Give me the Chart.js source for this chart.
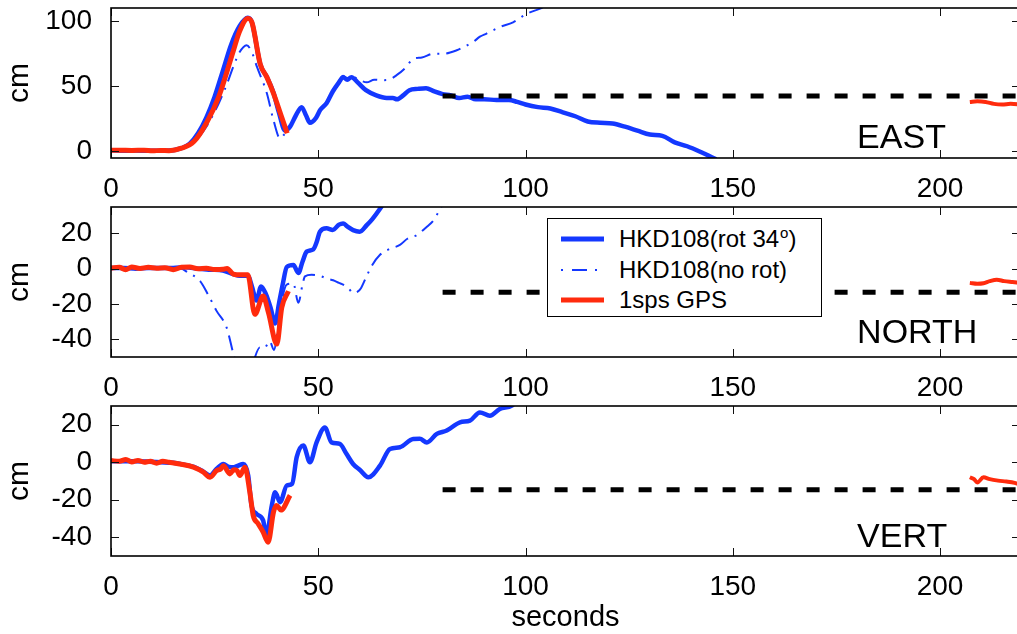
<!DOCTYPE html>
<html>
<head>
<meta charset="utf-8">
<script src="https://cdn.jsdelivr.net/npm/chart.js@4/dist/chart.umd.min.js"></script>
<style>
  html, body { margin:0; padding:0; background:#fff; width:1017px; height:634px; overflow:hidden; }
  canvas { position:absolute; left:0; }
  #legend { position:absolute; left:547px; top:218px; width:273px; height:97px; border:1.5px solid #000; background:#fff;
            font-family:'Liberation Sans', Arial, Helvetica, sans-serif; font-size:24px; color:#000; }
  .row { position:absolute; left:0; height:30px; width:100%; }
  .row svg { position:absolute; left:13px; top:0; }
  .row span { position:absolute; left:71px; top:2px; white-space:nowrap; line-height:26px; }
  sup { font-size:15px; position:relative; top:-1px; vertical-align:top; line-height:15px; margin-left:1px; }
</style>
</head>
<body>
<canvas id="cEast" width="1025" height="200" style="top:0px"></canvas>
<canvas id="cNorth" width="1025" height="200" style="top:200px"></canvas>
<canvas id="cVert" width="1025" height="234" style="top:400px"></canvas>
<div id="legend">
  <div class="row" style="top:5px"><svg width="44" height="30"><line x1="0" y1="15" x2="43" y2="15" stroke="#1438ff" stroke-width="5"/></svg><span>HKD108(rot 34<sup>o</sup>)</span></div>
  <div class="row" style="top:36px"><svg width="44" height="30"><line x1="0" y1="15" x2="43" y2="15" stroke="#1438ff" stroke-width="2" stroke-dasharray="2 9 15 8 2 20"/></svg><span>HKD108(no rot)</span></div>
  <div class="row" style="top:66px"><svg width="44" height="30"><line x1="0" y1="15" x2="43" y2="15" stroke="#ff2b0d" stroke-width="5"/></svg><span>1sps GPS</span></div>
</div>
<script>
const FONT = "'Liberation Sans', Arial, Helvetica, sans-serif";
const BLUE = '#1438ff';
const RED = '#ff2b0d';

// ---- tick labels ----
const xTicks = [0, 50, 100, 150, 200];
const eastYTicks = [0, 50, 100];
const northYTicks = [-40, -20, 0, 20];
const vertYTicks = [-40, -20, 0, 20];

// ---- EAST ----
const eastRotT = [0,3,6,9,12,15,17,19,21,23,25,27,29,31,33,34,36,37.6,39.2,40.5,42,43.2,44.5,46,47,48,49.5,50.5,52,53.5,55,56,57,58,59.5,61.5,64,66.5,68,69,70.5,72,74,76,78,80,82,84,86,88,90,93,96,98,100,103,106,109,112,115,118,121,124,127,130,133,136,139,142,144,146];
const eastRotV = [1,0.5,0.8,0.5,0.6,1,2.5,6,14,26,42,62,82,96,102.5,99,67,57,45,30,16,19,27,34,28,22,26,32,37,46,53,57,55,57,53,47,43,41,41,40,43,47,48,48.5,46,44,43,41,42,40,40,39.5,39.5,38,36,34,33,30,27,23,22,21.5,19,16,13,12,7,4,0,-3,-6];
const eastNoRotT = [0,10,15,17,20,23,26,28,29.5,31,32.7,34,35.2,37.6,39.2,40.8,42,43.2,44.5,46,47,48,49.5,50.5,52,53.5,55,56,57,58,59.3,61.7,63.5,65.7,67,68.9,71,72.9,75,77.8,80.2,83.4,85,87.4,89,90.6,93.8,97,100.3,103.5,105];
const eastNoRotV = [0.5,0.5,1,2.5,7,19,37,52,65,76,81.5,76,65,44.6,24,10,14,19,27,34,28,22,26,32,38,47,54,58,56,58,56,53,55,54.7,55,58.5,64,71,72,75,75,77.6,80,84,88,90.4,95.4,99,105.6,109.5,112];
const eastGpsT = [0,2,5,8,10,12,14,17,20,23,26,29.5,31,33,34,36,37.6,39.2,41,42.5];
const eastGpsV = [1,1,0.8,1,0.5,0.8,0.6,2.5,7.6,21.7,42,77,92,102,99,67,57,44.6,28,14];
const eastGps2T = [207.2,209,211,213,215,217,219.5];
const eastGps2V = [38,38.5,38,36.5,36,36.5,36];
const eastStaticT = [80, 220];
const eastStaticV = [42.5, 42.5];

// ---- NORTH ----
const northRotT = [0,3,6,9,12,15,18,21,24,27,29.5,31,33,34,35.1,36.2,37.3,38.5,39.6,40.5,41.5,42.4,44,45.2,46.2,47.2,48.8,49.6,50.4,52,53.5,55,56,57,58.4,60,61.7,63,64.9,66];
const northRotV = [0.5,0.5,0,0.5,0.5,0.5,0.8,0,-0.5,-1,-3,-4,-4,-10,-18,-10,-14,-22,-31,-20,-8,1,2.2,-2.4,4,9.7,11,15,21,22.9,22,25,25.7,24,21.9,21,24.7,28,34,38];
const northNoRotT = [0,10,15,16.6,18.5,21.5,23.5,25.5,27.9,29.5,30.5,33,35.9,37,38.3,39.3,40.5,41.5,42.4,44,45.2,46.2,46.8,48.4,50.4,52,53.6,55,56,57.3,58.4,59.5,60.3,61.7,63,64.9,67,69.7,71.5,73.7,76.2,78,79.4,80.5];
const northNoRotV = [0.5,0.5,0.6,0.4,-2,-7,-15,-24,-33.3,-48,-56,-60,-44.6,-45,-41,-46,-30,-15,-9,-8.4,-19.3,-9,-4.3,-3.4,-4,-5.5,-6.5,-8,-9,-11,-13.7,-13,-11,-4,2,7.9,11,13.5,17,19,23.8,28,34,38];
const northGpsT = [0,2,3.5,5,7,9,11,13,15,17,19,21,23,25,27,28,29.5,31,33,34.7,36.7,38,40,41.2,42.8];
const northGpsV = [0.5,0.8,-0.5,1,0.2,0.8,0.3,0.6,-0.5,0.8,1,0,0.3,-0.4,-0.3,0.2,-3,-3.4,-3.4,-25.8,-15.5,-25,-42.7,-22,-12.7];
const northGps2T = [207.2,209,210.5,212,213.7,215.5,217.5,219.5];
const northGps2V = [-8,-8.5,-8.2,-7,-6.2,-7,-7.5,-8];
const northStaticT = [80, 220];
const northStaticV = [-13.3, -13.3];

// ---- VERT ----
const vertRotT = [0,3,6,9,12,15,17,20,22.3,23.9,25.5,27.1,28.5,29.6,30.5,31.9,33.1,33.9,35.1,36.7,37.5,38.8,39.6,40.8,42.4,43.7,44.8,46.4,48,49.6,51.6,53.2,55.2,56.8,58.4,60,62.1,64.9,67.3,69.7,72.9,74.5,76.2,78.6,81,84.2,86.6,89,91.4,93.8,96.7,98];
const vertRotV = [0.5,0.5,0.5,0.3,0,-0.3,-1,-2.5,-5,-7,-3.5,-0.9,-2.5,-2.6,-2,-0.9,-7,-23,-27.5,-31,-39,-23,-16,-21.3,-12.4,-11.5,2.7,8.9,0,10.6,18.6,10.6,9.8,4.5,-0.9,-4,-8,-1.8,7.1,8,12.4,12.5,10.6,15.1,16.9,21.3,22.2,26.6,24.8,28.4,30.2,33];
const vertGpsT = [0,2,3.6,5,6.5,8,9.5,11,12.5,14,16.6,19.9,22.3,23.9,25.5,26.5,27.1,28.7,29.6,30.4,31.1,32.3,33.5,34.3,35.5,36.7,37.9,39.2,39.9,41,43.2];
const vertGpsV = [0.9,0.5,1.5,0.2,1,0,0.5,-0.5,0.5,0,-0.9,-2.6,-5.3,-8,-4.4,-3.5,-1.8,-6.2,-4,-4.4,-7.1,-2.6,-16,-28.3,-32.8,-37.2,-42.6,-26.6,-23,-25.5,-17.7];
const vertGps2T = [207.2,208.2,209,210.5,212,214,216,218,219.5];
const vertGps2V = [-8,-9,-10.8,-8,-9,-9.8,-10.3,-11,-12];
const vertStaticT = [80, 220];
const vertStaticV = [-14.7, -14.7];

const pts = (t, v) => t.map((x, i) => ({ x: x, y: v[i] }));

function lineDS(data, color, width, dash) {
  return {
    data: data, borderColor: color, borderWidth: width, borderDash: dash || [],
    pointRadius: 0, fill: false, tension: 0.3, cubicInterpolationMode: 'monotone',
    borderJoinStyle: 'round', borderCapStyle: 'butt', clip: 0
  };
}

const framePlugin = {
  id: 'frame',
  afterDraw(chart, args, opts) {
    const { ctx, chartArea: a } = chart;
    const xs = chart.scales.x, ys = chart.scales.y;
    ctx.save();
    ctx.strokeStyle = '#111';
    ctx.lineWidth = 1;
    ctx.beginPath();
    xs.ticks.forEach(t => {
      const p = Math.round(xs.getPixelForValue(t.value)) + 0.5;
      ctx.moveTo(p, a.bottom); ctx.lineTo(p, a.bottom - 8);
      ctx.moveTo(p, a.top); ctx.lineTo(p, a.top + 8);
    });
    ys.ticks.forEach(t => {
      const p = Math.round(ys.getPixelForValue(t.value)) + 0.5;
      ctx.moveTo(a.left, p); ctx.lineTo(a.left + 8, p);
      ctx.moveTo(a.right, p); ctx.lineTo(a.right - 8, p);
    });
    ctx.stroke();
    ctx.lineWidth = 1.6;
    ctx.strokeStyle = '#000';
    ctx.strokeRect(a.left, a.top, a.right - a.left, a.bottom - a.top);
    if (opts.label) {
      ctx.fillStyle = '#000';
      ctx.font = '34px ' + FONT;
      ctx.textAlign = 'left';
      ctx.textBaseline = 'middle';
      ctx.fillText(opts.label, xs.getPixelForValue(opts.lx), ys.getPixelForValue(opts.ly));
    }
    ctx.restore();
  }
};

function makePanel(id, datasets, yMin, yMax, yTicks, padTop, xAxisH, label, ly, xTitle) {
  new Chart(document.getElementById(id), {
    type: 'line',
    data: { datasets: datasets },
    plugins: [framePlugin],
    options: {
      responsive: false, animation: false, devicePixelRatio: 1,
      layout: { padding: { top: padTop, right: 5, left: 0, bottom: 0 } },
      plugins: { legend: { display: false }, tooltip: { enabled: false },
                 frame: { label: label, lx: 180, ly: ly } },
      scales: {
        x: {
          type: 'linear', min: 0, max: 219.3,
          afterBuildTicks: s => { s.ticks = xTicks.map(v => ({ value: v })); },
          afterFit: s => { s.height = xAxisH; s.paddingLeft = 0; s.paddingRight = 0; s.paddingTop = 0; s.paddingBottom = 0; },
          grid: { display: false }, border: { display: false },
          ticks: { font: { family: FONT, size: 28, lineHeight: 1.2 }, color: '#000', padding: 6, maxRotation: 0, autoSkip: false },
          title: { display: !!xTitle, text: xTitle || '', color: '#000',
                   font: { family: FONT, size: 29, lineHeight: 1 }, padding: { top: 0, bottom: 2 } }
        },
        y: {
          type: 'linear', min: yMin, max: yMax,
          afterBuildTicks: s => { s.ticks = yTicks.map(v => ({ value: v })); },
          afterFit: s => { s.width = 111; s.paddingTop = 0; s.paddingBottom = 0; s.paddingLeft = 0; s.paddingRight = 0; },
          grid: { display: false }, border: { display: false },
          ticks: { font: { family: FONT, size: 28 }, color: '#000', padding: 11 },
          title: { display: true, text: 'cm', color: '#000',
                   font: { family: FONT, size: 30, lineHeight: 1.2 }, padding: { top: 2, bottom: 0 } }
        }
      }
    }
  });
}

makePanel('cEast', [
  lineDS(pts(eastStaticT, eastStaticV), '#000', 5, [13, 15]),
  lineDS(pts(eastGpsT, eastGpsV), RED, 5),
  lineDS(pts(eastGps2T, eastGps2V), RED, 4),
  lineDS(pts(eastNoRotT, eastNoRotV), BLUE, 2, [15, 7, 2, 7]),
  lineDS(pts(eastRotT, eastRotV), BLUE, 4.5)
], -5, 110, eastYTicks, 8, 42, 'EAST', 10, null);

makePanel('cNorth', [
  lineDS(pts(northStaticT, northStaticV), '#000', 5, [13, 15]),
  lineDS(pts(northGpsT, northGpsV), RED, 5),
  lineDS(pts(northGps2T, northGps2V), RED, 4),
  lineDS(pts(northNoRotT, northNoRotV), BLUE, 2, [15, 7, 2, 7]),
  lineDS(pts(northRotT, northRotV), BLUE, 4.5)
], -50, 35, northYTicks, 7, 43, 'NORTH', -36.6, null);

makePanel('cVert', [
  lineDS(pts(vertStaticT, vertStaticV), '#000', 5, [13, 15]),
  lineDS(pts(vertGpsT, vertGpsV), RED, 5),
  lineDS(pts(vertGps2T, vertGps2V), RED, 4),
  lineDS(pts(vertRotT, vertRotV), BLUE, 4.5)
], -50, 30, vertYTicks, 6, 78, 'VERT', -40.3, 'seconds');
</script>
</body>
</html>
